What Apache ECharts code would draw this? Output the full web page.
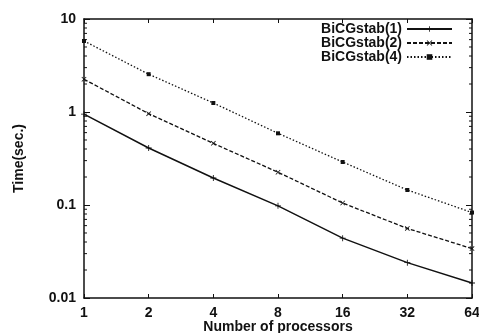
<!DOCTYPE html>
<html>
<head>
<meta charset="utf-8">
<script src="https://cdn.jsdelivr.net/npm/echarts@6/dist/echarts.min.js"></script>
<style>
  html, body { margin: 0; padding: 0; background: #fff; }
  #chart { width: 479px; height: 333px; }
</style>
</head>
<body>
<div id="chart"></div>
<script>
// number of processors (x axis, log2)
const procs = [1, 2, 4, 8, 16, 32, 64]
// time in seconds
const bicg1 = [0.95, 0.41, 0.195, 0.098, 0.044, 0.024, 0.0145]
const bicg2 = [2.25, 0.96, 0.46, 0.225, 0.105, 0.056, 0.034]
const bicg4 = [5.8, 2.55, 1.25, 0.59, 0.29, 0.145, 0.083]
const seriesNames = ['BiCGstab(1)', 'BiCGstab(2)', 'BiCGstab(4)']
// minor ticks of the log y axis (2..9 in each decade)
const minorTicks = []
;[0.01, 0.1, 1].forEach(d => {
  for (let k = 2; k <= 9; k++) minorTicks.push(+(d * k).toPrecision(3))
})

const font = 'Liberation Sans, Arial, sans-serif'
const ink = '#111'
const fs = 14

const chart = echarts.init(document.getElementById('chart'))

const plusPath = 'path://M-1,-0.14H1V0.14H-1Z M-0.14,-1H0.14V1H-0.14Z'
const crossPath = 'path://M-0.9,-0.7L-0.7,-0.9L0.9,0.7L0.7,0.9Z M0.7,-0.9L0.9,-0.7L-0.7,0.9L-0.9,0.7Z'

const pairs = vals => procs.map((p, i) => [p, vals[i]])

const lineSeries = (name, vals, type, symbol, size) => ({
  name: name,
  type: 'line',
  data: pairs(vals),
  symbol: symbol,
  symbolSize: size,
  showSymbol: true,
  itemStyle: { color: ink },
  lineStyle: { color: ink, width: type === 'solid' ? 1.5 : 1.3, type: type },
  emphasis: { disabled: true },
  z: 3
})

const labelStyle = { fontFamily: font, fontSize: fs, fontWeight: 'bold', color: ink }

chart.setOption({
  animation: false,
  textStyle: { fontFamily: font },
  grid: { left: 84, right: 7, top: 19, bottom: 35, outerBoundsMode: 'none', containLabel: false },
  legend: {
    orient: 'vertical',
    right: 26,
    top: 22,
    align: 'right',
    padding: 0,
    itemGap: 0,
    itemWidth: 45,
    itemHeight: 7,
    data: seriesNames,
    textStyle: Object.assign({ lineHeight: 14 }, labelStyle)
  },
  xAxis: [{
    type: 'log',
    logBase: 2,
    min: 1,
    max: 64,
    interval: 1,
    name: 'Number of processors',
    nameLocation: 'middle',
    nameGap: 22,
    nameMoveOverlap: false,
    nameTextStyle: labelStyle,
    axisLine: { lineStyle: { color: ink, width: 1.5 } },
    axisTick: { inside: true, length: 4, lineStyle: { color: ink } },
    axisLabel: Object.assign({ margin: 8 }, labelStyle),
    splitLine: { show: false }
  }, {
    type: 'log',
    logBase: 2,
    min: 1,
    max: 64,
    interval: 1,
    position: 'top',
    axisLine: { lineStyle: { color: ink, width: 1.5 } },
    axisTick: { inside: true, length: 4, lineStyle: { color: ink } },
    axisLabel: { show: false },
    splitLine: { show: false }
  }],
  yAxis: [{
    type: 'log',
    logBase: 10,
    min: 0.01,
    max: 10,
    interval: 1,
    name: 'Time(sec.)',
    nameLocation: 'middle',
    nameGap: 58,
    nameMoveOverlap: false,
    nameTextStyle: labelStyle,
    axisLine: { show: true, lineStyle: { color: ink, width: 1.5 } },
    axisTick: { show: true, inside: true, length: 6, lineStyle: { color: ink } },
    axisLabel: Object.assign({ margin: 8 }, labelStyle),
    splitLine: { show: false }
  }, {
    type: 'log',
    logBase: 10,
    min: 0.01,
    max: 10,
    interval: 1,
    position: 'right',
    axisLine: { show: true, lineStyle: { color: ink, width: 1.5 } },
    axisTick: { show: true, inside: true, length: 6, lineStyle: { color: ink } },
    axisLabel: { show: false },
    splitLine: { show: false }
  }],
  series: [
    lineSeries(seriesNames[0], bicg1, 'solid', plusPath, 6),
    lineSeries(seriesNames[1], bicg2, [4, 2], crossPath, 5),
    lineSeries(seriesNames[2], bicg4, [1.5, 2], 'rect', 4),
    {
      // minor tick marks on left and right frame edges
      type: 'custom',
      silent: true,
      data: minorTicks.map(v => [1, v]),
      renderItem: (params, api) => {
        const y = api.coord([1, api.value(1)])[1]
        const cs = params.coordSys
        const style = { stroke: ink, lineWidth: 1 }
        return {
          type: 'group',
          children: [
            { type: 'line', shape: { x1: cs.x, y1: y, x2: cs.x + 3, y2: y }, style: style },
            { type: 'line', shape: { x1: cs.x + cs.width, y1: y, x2: cs.x + cs.width - 3, y2: y }, style: style }
          ]
        }
      }
    }
  ]
})
</script>
</body>
</html>
